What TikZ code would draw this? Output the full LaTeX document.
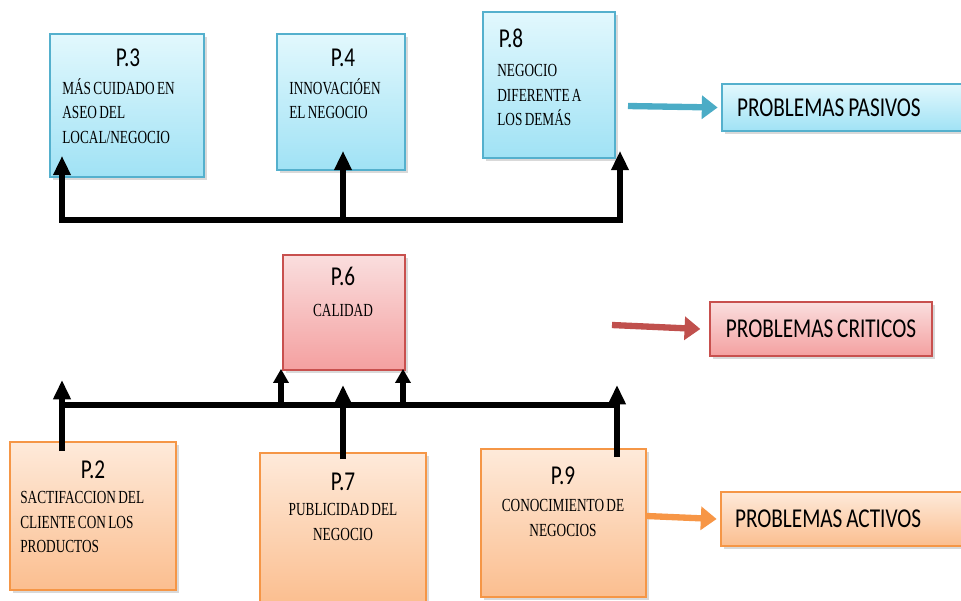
\documentclass[tikz,border=0pt]{standalone}
\usepackage{fontspec}
\setmainfont{Liberation Serif}
\newfontfamily\headfont[FakeStretch=0.78, WordSpace=0.8]{Carlito}
\newfontfamily\notefont[FakeStretch=0.72, WordSpace=0.7]{Liberation Serif}
\usetikzlibrary{arrows.meta,shadows,calc}

\definecolor{pasEdge}{RGB}{84,176,205}
\definecolor{pasTop}{RGB}{226,248,253}
\definecolor{pasBot}{RGB}{160,226,245}
\definecolor{critEdge}{RGB}{200,80,78}
\definecolor{critTop}{RGB}{250,222,222}
\definecolor{critBot}{RGB}{244,160,160}
\definecolor{actEdge}{RGB}{245,150,70}
\definecolor{actTop}{RGB}{254,234,218}
\definecolor{actBot}{RGB}{251,190,143}
\definecolor{pasArrow}{RGB}{75,172,198}
\definecolor{critArrow}{RGB}{192,80,77}
\definecolor{actArrow}{RGB}{247,150,70}

\tikzset{
  box/.style={draw, line width=1pt, inner sep=0pt,
    drop shadow={opacity=0.3, shadow xshift=1.5pt, shadow yshift=-1.5pt}},
  pasBox/.style={box, draw=pasEdge, top color=pasTop, bottom color=pasBot},
  critBox/.style={box, draw=critEdge, top color=critTop, bottom color=critBot},
  actBox/.style={box, draw=actEdge, top color=actTop, bottom color=actBot},
  head/.style={font=\headfont\fontsize{15.5}{18}\selectfont, inner sep=0pt},
  note/.style={font=\notefont\fontsize{10.5}{14}\selectfont, inner sep=0pt,
    align=left, anchor=north west},
  noteC/.style={note, align=center, anchor=north},
  bus/.style={line width=3.2pt, line cap=rect},
  up/.style={line width=3.2pt, -{Triangle[length=11pt,width=9.5pt]}},
  upSmall/.style={line width=3pt, -{Triangle[length=8pt,width=8.5pt]}},
  flow/.style={line width=3.6pt, -{Triangle[length=9pt,width=13pt]}}
}

\begin{document}
\begin{tikzpicture}[x=0.02cm, y=-0.02cm]
  \useasboundingbox (0,0) rectangle (961,600);
  % Passive problems
  \node[pasBox, minimum width=3.08cm, minimum height=2.86cm] (p3) at (127,105.5) {};
  \node[head] (p3h) at (128,58) {P.3};
  \node[note] (p3n) at (62,78) {MÁS CUIDADO EN\\ASEO DEL\\LOCAL/NEGOCIO};
  \node[pasBox, minimum width=2.56cm, minimum height=2.72cm] (p4) at (341,102) {};
  \node[head] (p4h) at (343,58) {P.4};
  \node[note] (p4n) at (289,78) {INNOVACIÓEN\\EL NEGOCIO};
  \node[pasBox, minimum width=2.64cm, minimum height=2.92cm] (p8) at (549,85) {};
  \node[head] (p8h) at (511,38) {P.8};
  \node[note] (p8n) at (497,64) {NEGOCIO\\DIFERENTE A\\LOS DEMÁS};
  \node[pasBox, head, minimum height=0.94cm, text width=4.36cm, inner xsep=0.3cm,
    align=flush left] (pas) at (846,107.5) {PROBLEMAS PASIVOS};
  \draw[flow, pasArrow] (628,106) coordinate (pasFrom) -- ([xshift=-2pt]pas.west);
  % Critical problem
  \node[critBox, minimum width=2.44cm, minimum height=2.30cm] (p6) at (344,312.5) {};
  \node[head] (p6h) at (343,276) {P.6};
  \node[noteC] (p6n) at (343,304) {CALIDAD};
  \node[critBox, head, minimum width=4.44cm, minimum height=1.08cm] (crit) at (821,329) {PROBLEMAS CRITICOS};
  \draw[flow, critArrow] (612,325) coordinate (critFrom) -- ([xshift=-5pt]crit.west);
  % Active problems
  \node[actBox, minimum width=3.32cm, minimum height=2.96cm] (p2) at (93,516) {};
  \node[head] (p2h) at (93,470) {P.2};
  \node[note] (p2n) at (20,491) {SACTIFACCION DEL\\CLIENTE CON LOS\\PRODUCTOS};
  \node[actBox, minimum width=3.32cm, minimum height=3.04cm] (p7) at (343,529) {};
  \node[head] (p7h) at (343,482) {P.7};
  \node[noteC] (p7n) at (343,503) {PUBLICIDAD DEL\\NEGOCIO};
  \node[actBox, minimum width=3.30cm, minimum height=2.96cm] (p9) at (563.5,523) {};
  \node[head] (p9h) at (563,476) {P.9};
  \node[noteC] (p9n) at (563,499) {CONOCIMIENTO DE\\NEGOCIOS};
  \node[actBox, head, minimum height=1.08cm, text width=4.42cm, inner xsep=0.28cm,
    align=flush left] (act) at (845.5,519) {PROBLEMAS ACTIVOS};
  \draw[flow, actArrow] (p9.east |- 0,516) -- ([xshift=-2pt]act.west);
  % Upper bracket
  \coordinate (ua) at (62,220);
  \coordinate (ub) at (343,220);
  \coordinate (uc) at (620,220);
  \draw[bus] (ua) -- (uc);
  \draw[up] (ua) -- ($(ua |- p3.south)+(0,-22)$);
  \draw[up] (ub) -- ($(ub |- p4.south)+(0,-20)$);
  \draw[up] (uc) -- ($(uc |- p8.south)+(0,-8)$);
  % Lower bracket
  \coordinate (la) at (62,405);
  \coordinate (lb) at (343,405);
  \coordinate (lc) at (617,405);
  \coordinate (ld) at (281,405);
  \coordinate (le) at (403,405);
  \draw[bus] (la) -- (lc);
  \draw[up] ($(la |- p2.north)+(0,10)$) -- ($(la)+(0,-25)$);
  \draw[up] ($(lb |- p7.north)+(0,7)$) -- ($(lb)+(0,-20)$);
  \draw[up] ($(lc |- p9.north)+(0,9)$) -- ($(lc)+(0,-20)$);
  \draw[upSmall] (ld) -- ($(ld |- p6.south)+(0,-2)$);
  \draw[upSmall] (le) -- ($(le |- p6.south)+(0,-2)$);
\end{tikzpicture}
\end{document}
